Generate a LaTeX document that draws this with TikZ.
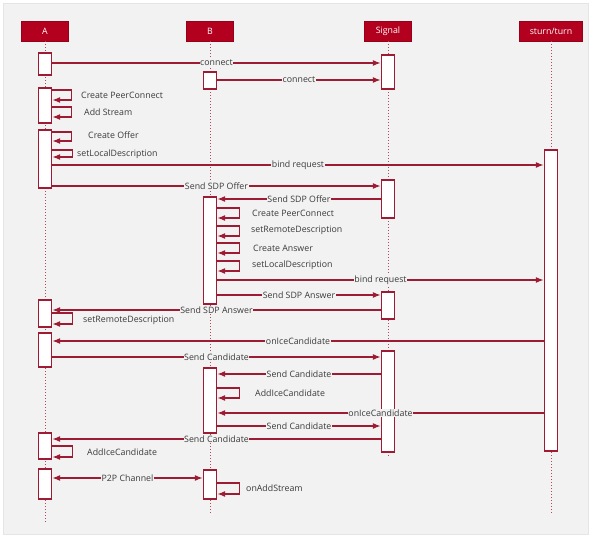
\documentclass[tikz,border=0pt]{standalone}
\usepackage{fontspec}
\setmainfont{Open Sans}
\usetikzlibrary{arrows.meta}
\definecolor{wine}{HTML}{9E1B34}
\definecolor{hdr}{HTML}{B2001E}
\definecolor{panel}{HTML}{F2F2F2}
\definecolor{ink}{HTML}{3A3A3A}
\begin{document}
\begin{tikzpicture}[x=1pt, y=-1pt, >={Latex[length=8pt,width=6pt]},
        every node/.style={font=\fontsize{8.8}{10}\selectfont, text=ink},
        head/.style={fill=hdr, draw=hdr!85!black, text=white, minimum height=20pt, inner sep=0pt, line width=0.6pt},
        act/.style={draw=wine, fill=white, line width=1.3pt, minimum width=13pt, minimum height=#1, inner sep=0pt},
        life/.style={wine!80, dotted, line width=1pt},
        msg/.style={wine, line width=1.3pt, ->},
        lbl/.style={fill=panel, inner sep=0.6pt},
        note/.style={anchor=west, inner sep=0pt}]
        \useasboundingbox (0,0) rectangle (594,537);
        \draw[gray!20, fill=panel] (3,3) rectangle (588,534);
        % participants
        \node[head, minimum width=47pt] (A) at (45,31) {A};
        \node[head, minimum width=47pt] (B) at (210,31) {B};
        \node[head, minimum width=47pt] (S) at (388,31) {Signal};
        \node[head, minimum width=63pt] (T) at (551,31) {sturn/turn};
        \coordinate (Aend) at (45,523);
        \coordinate (Bend) at (210,513);
        \coordinate (Send) at (388,457);
        \coordinate (Tend) at (551,513);
        \draw[life] (A) -- (Aend);
        \draw[life] (B) -- (Bend);
        \draw[life] (S) -- (Send);
        \draw[life] (T) -- (Tend);
        % activations
        \node[act=22pt] (A1) at (45,64) {};
        \node[act=35pt] (A2) at (45,105.5) {};
        \node[act=58pt] (A3) at (45,159) {};
        \node[act=27pt] (A4) at (45,313.5) {};
        \node[act=34pt] (A5) at (45,350) {};
        \node[act=26pt] (A6) at (45,446) {};
        \node[act=30pt] (A7) at (45,484) {};
        \node[act=17pt] (B1) at (210,80.5) {};
        \node[act=107pt] (B2) at (210,250.5) {};
        \node[act=65pt] (B3) at (210,400.5) {};
        \node[act=29pt] (B4) at (210,484.5) {};
        \node[act=34pt] (S1) at (388,72) {};
        \node[act=38pt] (S2) at (388,199) {};
        \node[act=27pt] (S3) at (388,305.5) {};
        \node[act=101pt] (S4) at (388,401.5) {};
        \node[act=301pt] (T1) at (551,300.5) {};
        % messages
        \draw[msg] (A1.east |- 0,63) -- node[lbl] {connect} (S1.west |- 0,63);
        \draw[msg] (B1.east |- 0,80) -- node[lbl] {connect} (S1.west |- 0,80);
        \draw[msg] (A2.east |- 0,90) -- ++(19,0) |- (A2.east |- 0,100);
        \node[note] (nA1) at (81,95) {Create PeerConnect};
        \draw[msg] (A2.east |- 0,107) -- ++(19,0) |- (A2.east |- 0,117);
        \node[note] (nA2) at (84,112) {Add Stream};
        \draw[msg] (A3.east |- 0,132) -- ++(19,0) |- (A3.east |- 0,141);
        \node[note] (nA3) at (88,135) {Create Offer};
        \draw[msg] (A3.east |- 0,150) -- ++(20,0) |- (A3.east |- 0,157);
        \node[note] (nA4) at (77,154) {setLocalDescription};
        \draw[msg] (A3.east |- 0,165) -- node[lbl] {bind request} (T1.west |- 0,165);
        \draw[msg] (A3.east |- 0,186) -- node[lbl] {Send SDP Offer} (S2.west |- 0,186);
        \draw[msg] (S2.west |- 0,199) -- node[lbl] {Send SDP Offer} (B2.east |- 0,199);
        \draw[msg] (B2.east |- 0,208) -- ++(22,0) |- (B2.east |- 0,218);
        \node[note] (nB1) at (252,213) {Create PeerConnect};
        \draw[msg] (B2.east |- 0,226) -- ++(22,0) |- (B2.east |- 0,236);
        \node[note] (nB2) at (251,230) {setRemoteDescription};
        \draw[msg] (B2.east |- 0,243) -- ++(22,0) |- (B2.east |- 0,253);
        \node[note] (nB3) at (253,248) {Create Answer};
        \draw[msg] (B2.east |- 0,261) -- ++(22,0) |- (B2.east |- 0,271);
        \node[note] (nB4) at (252,265) {setLocalDescription};
        \draw[msg] (B2.east |- 0,280) -- node[lbl] {bind request} (T1.west |- 0,280);
        \draw[msg] (B2.east |- 0,295) -- node[lbl] {Send SDP Answer} (S3.west |- 0,295);
        \draw[msg] (S3.west |- 0,310) -- node[lbl] {Send SDP Answer} (A4.east |- 0,310);
        \draw[msg] (A4.east |- 0,313) -- ++(20,0) |- (A4.east |- 0,324);
        \node[note] (nA5) at (83,320) {setRemoteDescription};
        \draw[msg] (T1.west |- 0,341) -- node[lbl] {onIceCandidate} (A5.east |- 0,341);
        \draw[msg] (A5.east |- 0,357) -- node[lbl] {Send Candidate} (S4.west |- 0,357);
        \draw[msg] (S4.west |- 0,374) -- node[lbl] {Send Candidate} (B3.east |- 0,374);
        \draw[msg] (B3.east |- 0,388) -- ++(22,0) |- (B3.east |- 0,398);
        \node[note] (nB5) at (255,393) {AddIceCandidate};
        \draw[msg] (T1.west |- 0,413) -- node[lbl] {onIceCandidate} (B3.east |- 0,413);
        \draw[msg] (B3.east |- 0,426) -- node[lbl] {Send Candidate} (S4.west |- 0,426);
        \draw[msg] (S4.west |- 0,439) -- node[lbl] {Send Candidate} (A6.east |- 0,439);
        \draw[msg] (A6.east |- 0,446) -- ++(20,0) |- (A6.east |- 0,457);
        \node[note] (nA6) at (87,452) {AddIceCandidate};
        \draw[msg, <->] (A7.east |- 0,478) -- node[lbl] {P2P Channel} (B4.west |- 0,478);
        \draw[msg] (B4.east |- 0,483) -- ++(22,0) |- (B4.east |- 0,494);
        \node[note] (nB6) at (246,488) {onAddStream};
    \end{tikzpicture}
\end{document}
